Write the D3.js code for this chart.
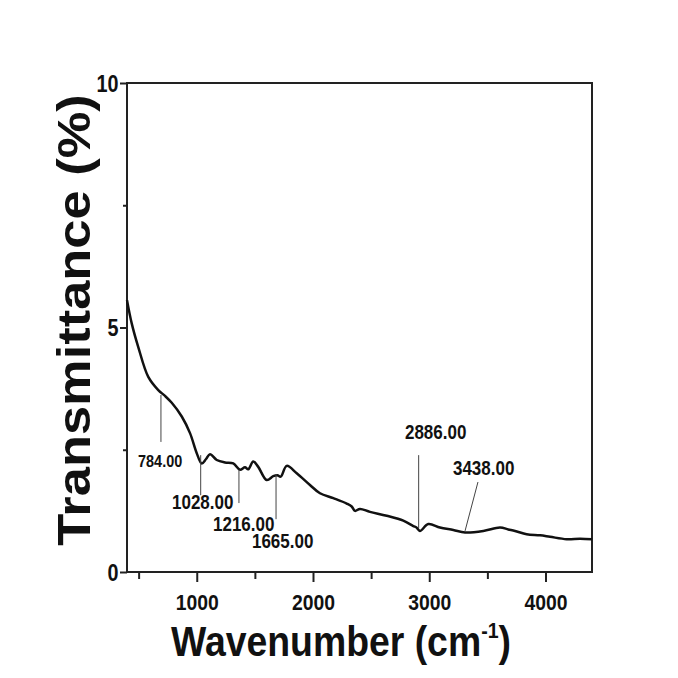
<!DOCTYPE html>
<html>
<head>
<meta charset="utf-8">
<script src="https://cdn.jsdelivr.net/npm/d3@7"></script>
<style>
  body { margin: 0; background: #fff; }
  text { font-family: "Liberation Sans", Arial, sans-serif; font-weight: bold; fill: #111; }
</style>
</head>
<body>
<svg id="chart" width="678" height="678"></svg>
<script>
// FTIR spectrum
const wavenumber = [400, 440, 497, 583, 669, 727, 785, 871, 942, 1000, 1043, 1080, 1114, 1172, 1243, 1314,
  1372, 1415, 1443, 1486, 1529, 1602, 1658, 1693, 1722, 1774, 1860, 1974, 2060, 2175, 2290, 2333, 2361,
  2404, 2490, 2634, 2777, 2863, 2890, 2920, 2992, 3092, 3207, 3308, 3465, 3609, 3680, 3738, 3838, 3953,
  4039, 4182, 4297, 4400];
const transmittance = [5.56, 5.09, 4.60, 3.99, 3.72, 3.60, 3.46, 3.18, 2.84, 2.43, 2.22, 2.31, 2.41, 2.29, 2.24, 2.22,
  2.09, 2.14, 2.10, 2.26, 2.15, 1.88, 1.96, 1.98, 1.95, 2.17, 2.02, 1.78, 1.61, 1.51, 1.40, 1.34, 1.25,
  1.29, 1.23, 1.15, 1.05, 0.94, 0.91, 0.84, 0.98, 0.91, 0.86, 0.81, 0.84, 0.91, 0.87, 0.84, 0.77, 0.75,
  0.72, 0.67, 0.68, 0.67];

// peak labels: text, leader line (x1,y1)-(x2,y2) and label anchor, all in data units
const peakLabels = ["784.00", "1028.00", "1216.00", "1665.00", "2886.00", "3438.00"];
const peakLine = [[692, 3.62, 692, 2.66], [1034, 2.39, 1034, 1.57], [1363, 2.09, 1363, 1.41],
  [1682, 2.00, 1682, 1.08], [2909, 2.39, 2909, 0.90], [3419, 1.84, 3308, 0.84]];
const peakText = [[495, 2.15], [787, 1.29], [1140, 0.84], [1475, 0.49], [2791, 2.72], [3204, 1.98]];

const xMajor = [1000, 2000, 3000, 4000];
const xMinor = [500, 1500, 2500, 3500];
const yMajor = [0, 5, 10];
const yMinor = [2.5, 7.5];

const margin = {left: 127, top: 83, right: 86, bottom: 106};
const W = 678, H = 678;
const svg = d3.select("#chart");

const x = d3.scaleLinear().domain([400, 4400]).range([margin.left, W - margin.right]);
const y = d3.scaleLinear().domain([0, 10]).range([H - margin.bottom, margin.top]);

// frame
svg.append("rect")
  .attr("x", x(400)).attr("y", y(10))
  .attr("width", x(4400) - x(400)).attr("height", y(0) - y(10))
  .attr("fill", "none").attr("stroke", "#222").attr("stroke-width", 2);

// x axis
const gx = svg.append("g").attr("transform", `translate(0,${y(0)})`);
gx.call(d3.axisBottom(x).tickValues(xMinor).tickSize(7).tickFormat(""))
  .call(g => g.select(".domain").remove());
gx.append("g").call(d3.axisBottom(x).tickValues(xMajor).tickSize(10).tickFormat(d3.format("d")))
  .call(g => g.select(".domain").remove())
  .call(g => g.selectAll("text")
    .attr("y", 38).attr("dy", 0)
    .attr("transform", "scale(0.88,1)")
    .style("font-size", "22px"));
gx.selectAll("line").attr("stroke", "#222").attr("stroke-width", 2);

// y axis
const gy = svg.append("g").attr("transform", `translate(${x(400)},0)`);
gy.call(d3.axisLeft(y).tickValues(yMinor).tickSize(4).tickFormat(""))
  .call(g => g.select(".domain").remove());
gy.append("g").call(d3.axisLeft(y).tickValues(yMajor).tickSize(7).tickFormat(d3.format("d")))
  .call(g => g.select(".domain").remove())
  .call(g => g.selectAll("text")
    .attr("x", -10).attr("dy", "0.36em")
    .attr("transform", "scale(0.86,1)")
    .style("font-size", "23px"));
gy.selectAll("line").attr("stroke", "#222").attr("stroke-width", 2);

// spectrum
const line = d3.line().x((d, i) => x(wavenumber[i])).y(d => y(d)).curve(d3.curveCatmullRom);
svg.append("path")
  .datum(transmittance)
  .attr("d", line)
  .attr("fill", "none").attr("stroke", "#111").attr("stroke-width", 2.5)
  .attr("stroke-linejoin", "round");

// peak annotations
peakLabels.forEach((lab, i) => {
  const [x1, y1, x2, y2] = peakLine[i];
  svg.append("line")
    .attr("x1", x(x1)).attr("y1", y(y1)).attr("x2", x(x2)).attr("y2", y(y2))
    .attr("stroke", "#444").attr("stroke-width", 1);
  svg.append("text")
    .attr("transform", `translate(${x(peakText[i][0])},${y(peakText[i][1])}) scale(0.85,1)`)
    .style("font-size", i == 0 ? "17px" : "20px")
    .text(lab);
});

// axis titles
const xt = svg.append("text")
  .attr("transform", "translate(341,656) scale(0.89,1)")
  .attr("text-anchor", "middle")
  .style("font-size", "42px");
xt.append("tspan").text("Wavenumber (cm");
xt.append("tspan").attr("dy", -18).style("font-size", "22px").text("-1");
xt.append("tspan").attr("dy", 18).text(")");

svg.append("text")
  .attr("transform", "translate(90,320) rotate(-90) scale(1.14,1)")
  .attr("text-anchor", "middle")
  .style("font-size", "46px")
  .text("Transmittance (%)");
</script>
</body>
</html>
